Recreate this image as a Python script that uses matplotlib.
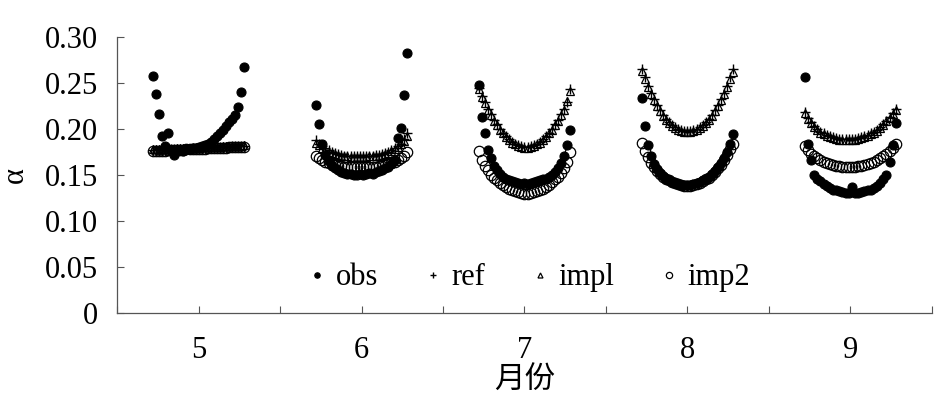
import numpy as np
import matplotlib
matplotlib.use("Agg")
import matplotlib.pyplot as plt

plt.rcParams['font.family'] = ['Liberation Serif', 'DejaVu Serif']

months = [5, 6, 7, 8, 9]
xlabel = "月份"
ylabel = "α"

# daily alpha values per month
obs_5 = [0.257, 0.238, 0.216, 0.192, 0.181, 0.196, 0.177, 0.172, 0.176, 0.177, 0.176, 0.178, 0.178, 0.179, 0.179, 0.180,
         0.181, 0.182, 0.184, 0.186, 0.189, 0.192, 0.195, 0.199, 0.203, 0.207, 0.211, 0.215, 0.224, 0.240, 0.267]
ref_5 = [0.177, 0.177, 0.177, 0.177, 0.177, 0.177, 0.178, 0.178, 0.178, 0.178, 0.178, 0.178, 0.178, 0.179, 0.179, 0.179,
         0.179, 0.179, 0.179, 0.180, 0.180, 0.180, 0.180, 0.180, 0.180, 0.180, 0.181, 0.181, 0.181, 0.181, 0.181]
impl_5 = [0.178, 0.178, 0.178, 0.178, 0.178, 0.178, 0.178, 0.178, 0.179, 0.179, 0.179, 0.179, 0.179, 0.179, 0.179, 0.179,
          0.180, 0.180, 0.180, 0.180, 0.180, 0.180, 0.180, 0.181, 0.181, 0.181, 0.181, 0.181, 0.181, 0.181, 0.182]
imp2_5 = [0.176, 0.176, 0.176, 0.176, 0.176, 0.177, 0.177, 0.177, 0.177, 0.177, 0.177, 0.178, 0.178, 0.178, 0.178, 0.178,
          0.178, 0.178, 0.179, 0.179, 0.179, 0.179, 0.179, 0.179, 0.179, 0.180, 0.180, 0.180, 0.180, 0.180, 0.180]

obs_6 = [0.226, 0.205, 0.184, 0.172, 0.165, 0.160, 0.157, 0.155, 0.153, 0.152, 0.151, 0.151, 0.150, 0.150, 0.151,
         0.150, 0.151, 0.152, 0.151, 0.153, 0.154, 0.155, 0.157, 0.159, 0.162, 0.166, 0.190, 0.201, 0.237, 0.282]
ref_6 = [0.188, 0.184, 0.181, 0.179, 0.177, 0.175, 0.174, 0.173, 0.172, 0.171, 0.171, 0.170, 0.170, 0.170, 0.170,
         0.170, 0.170, 0.171, 0.171, 0.172, 0.172, 0.173, 0.174, 0.175, 0.177, 0.179, 0.181, 0.184, 0.189, 0.196]
impl_6 = [0.185, 0.182, 0.179, 0.177, 0.175, 0.174, 0.173, 0.172, 0.171, 0.170, 0.170, 0.169, 0.169, 0.169, 0.169,
          0.169, 0.169, 0.170, 0.170, 0.171, 0.171, 0.172, 0.173, 0.174, 0.176, 0.178, 0.180, 0.183, 0.187, 0.192]
imp2_6 = [0.171, 0.168, 0.166, 0.164, 0.163, 0.162, 0.161, 0.160, 0.160, 0.159, 0.159, 0.158, 0.158, 0.158, 0.158,
          0.158, 0.158, 0.158, 0.159, 0.159, 0.160, 0.160, 0.161, 0.162, 0.163, 0.164, 0.166, 0.168, 0.171, 0.175]

obs_7 = [0.248, 0.213, 0.196, 0.177, 0.168, 0.160, 0.155, 0.151, 0.148, 0.146, 0.144, 0.143, 0.142, 0.141, 0.140, 0.141,
         0.140, 0.141, 0.142, 0.143, 0.144, 0.145, 0.146, 0.148, 0.150, 0.153, 0.157, 0.163, 0.170, 0.182, 0.199]
ref_7 = [0.244, 0.236, 0.229, 0.222, 0.216, 0.210, 0.205, 0.200, 0.196, 0.192, 0.189, 0.186, 0.184, 0.182, 0.181, 0.180,
         0.180, 0.181, 0.182, 0.184, 0.186, 0.189, 0.192, 0.196, 0.200, 0.205, 0.210, 0.216, 0.222, 0.229, 0.243]
impl_7 = [0.243, 0.235, 0.228, 0.221, 0.215, 0.209, 0.204, 0.199, 0.195, 0.191, 0.188, 0.185, 0.183, 0.181, 0.180, 0.179,
          0.179, 0.180, 0.181, 0.183, 0.185, 0.188, 0.191, 0.195, 0.199, 0.204, 0.209, 0.215, 0.221, 0.230, 0.241]
imp2_7 = [0.176, 0.166, 0.160, 0.155, 0.150, 0.147, 0.144, 0.141, 0.139, 0.137, 0.135, 0.133, 0.132, 0.131, 0.130, 0.129,
          0.129, 0.130, 0.131, 0.132, 0.133, 0.135, 0.137, 0.139, 0.142, 0.145, 0.148, 0.152, 0.157, 0.164, 0.175]

obs_8 = [0.233, 0.203, 0.182, 0.170, 0.162, 0.156, 0.152, 0.149, 0.146, 0.144, 0.142, 0.141, 0.140, 0.139, 0.139, 0.139,
         0.139, 0.140, 0.141, 0.142, 0.144, 0.146, 0.148, 0.151, 0.154, 0.158, 0.163, 0.168, 0.175, 0.183, 0.194]
ref_8 = [0.265, 0.256, 0.247, 0.239, 0.232, 0.226, 0.220, 0.215, 0.211, 0.207, 0.204, 0.202, 0.200, 0.199, 0.198, 0.198,
         0.198, 0.199, 0.200, 0.202, 0.204, 0.207, 0.211, 0.215, 0.220, 0.226, 0.232, 0.239, 0.247, 0.256, 0.265]
impl_8 = [0.263, 0.254, 0.246, 0.238, 0.231, 0.225, 0.219, 0.214, 0.210, 0.206, 0.203, 0.201, 0.199, 0.198, 0.197, 0.197,
          0.197, 0.198, 0.199, 0.201, 0.203, 0.206, 0.210, 0.214, 0.219, 0.225, 0.231, 0.238, 0.246, 0.254, 0.262]
imp2_8 = [0.185, 0.176, 0.169, 0.163, 0.158, 0.154, 0.151, 0.148, 0.146, 0.144, 0.142, 0.141, 0.140, 0.139, 0.138, 0.138,
          0.138, 0.139, 0.140, 0.141, 0.143, 0.145, 0.147, 0.150, 0.153, 0.157, 0.161, 0.166, 0.172, 0.178, 0.184]

obs_9 = [0.256, 0.184, 0.166, 0.150, 0.146, 0.143, 0.140, 0.138, 0.136, 0.134, 0.133, 0.132, 0.131, 0.130, 0.130,
         0.137, 0.130, 0.130, 0.131, 0.132, 0.133, 0.134, 0.136, 0.138, 0.141, 0.145, 0.150, 0.164, 0.182, 0.206]
ref_9 = [0.218, 0.212, 0.207, 0.203, 0.200, 0.197, 0.195, 0.193, 0.192, 0.191, 0.190, 0.189, 0.189, 0.189, 0.189,
         0.189, 0.189, 0.190, 0.191, 0.192, 0.193, 0.195, 0.197, 0.199, 0.202, 0.205, 0.209, 0.213, 0.217, 0.222]
impl_9 = [0.217, 0.211, 0.206, 0.202, 0.199, 0.196, 0.194, 0.192, 0.191, 0.190, 0.189, 0.188, 0.188, 0.188, 0.188,
          0.188, 0.188, 0.189, 0.190, 0.191, 0.192, 0.194, 0.196, 0.198, 0.201, 0.204, 0.208, 0.212, 0.216, 0.221]
imp2_9 = [0.181, 0.177, 0.173, 0.170, 0.168, 0.166, 0.164, 0.163, 0.162, 0.161, 0.160, 0.160, 0.159, 0.159, 0.159,
          0.159, 0.159, 0.160, 0.160, 0.161, 0.162, 0.163, 0.164, 0.166, 0.168, 0.170, 0.173, 0.176, 0.179, 0.183]

obs = [obs_5, obs_6, obs_7, obs_8, obs_9]
ref = [ref_5, ref_6, ref_7, ref_8, ref_9]
impl = [impl_5, impl_6, impl_7, impl_8, impl_9]
imp2 = [imp2_5, imp2_6, imp2_7, imp2_8, imp2_9]

SPREAD = 0.28  # half width of one month's day cloud, in x units


def day_x(month, n):
    # spread the days of one month evenly around its tick
    return month - SPREAD + 2 * SPREAD * np.arange(n) / (n - 1)


fig = plt.figure(figsize=(9.45, 3.96), dpi=100)
ax = fig.add_axes([0.124, 0.21, 0.862, 0.697])

styles = [
    ("obs", obs, dict(marker="o", ms=6.5, mfc="black", mec="black", mew=0.8)),
    ("ref", ref, dict(marker="+", ms=7.5, mfc="none", mec="black", mew=1.0)),
    ("impl", impl, dict(marker="^", ms=6, mfc="none", mec="black", mew=0.9)),
    ("imp2", imp2, dict(marker="o", ms=7.5, mfc="none", mec="black", mew=0.9)),
]

for label, series, kw in styles:
    first = True
    for m, vals in zip(months, series):
        ax.plot(day_x(m, len(vals)), vals, ls="none", label=label if first else None, **kw)
        first = False

ticks = np.arange(4.5, 9.51, 0.5)
ax.set_xlim(4.5, 9.5)
ax.set_ylim(0, 0.30)
ax.set_xticks(ticks)
ax.set_xticklabels([str(int(t)) if float(t).is_integer() else "" for t in ticks])
ax.set_yticks(np.arange(0, 0.301, 0.05))
ax.set_yticklabels(["0"] + [f"{v:.2f}" for v in np.arange(0.05, 0.301, 0.05)])

for side in ("top", "right"):
    ax.spines[side].set_visible(False)
for side in ("left", "bottom"):
    ax.spines[side].set_color("#555555")
    ax.spines[side].set_linewidth(0.9)
ax.tick_params(axis="both", direction="in", length=5, width=0.8, color="#555555", labelsize=22)
ax.tick_params(axis="x", pad=17)
ax.tick_params(axis="y", pad=14)

ax.set_xlabel(xlabel, fontsize=22, family=["Noto Sans CJK SC", "DejaVu Sans"])
ax.xaxis.set_label_coords(0.5, -0.19)
ax.xaxis.label.set_va("top")
ax.set_ylabel(ylabel, fontsize=22)
ax.yaxis.set_label_coords(-0.125, 0.5)
ax.yaxis.label.set_va("center")

ax.legend(loc="center", bbox_to_anchor=(0.506, 0.127), ncol=4, frameon=False, fontsize=22,
          markerscale=0.6, handlelength=0.6, handletextpad=0.3, columnspacing=1.5,
          borderpad=0.1)

fig.savefig("out.png", dpi=100)
